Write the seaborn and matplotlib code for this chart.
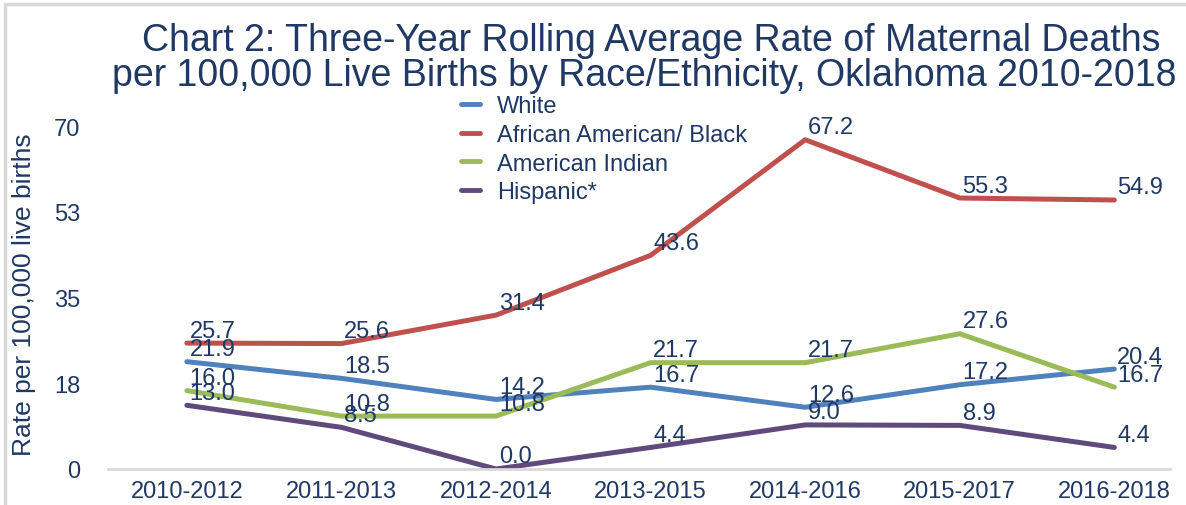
import matplotlib
matplotlib.use("Agg")
import matplotlib.pyplot as plt
import seaborn as sns
import pandas as pd
from matplotlib.patches import Rectangle

periods = ["2010-2012", "2011-2013", "2012-2014", "2013-2015", "2014-2016", "2015-2017", "2016-2018"]
white = [21.9, 18.5, 14.2, 16.7, 12.6, 17.2, 20.4]
black = [25.7, 25.6, 31.4, 43.6, 67.2, 55.3, 54.9]
am_indian = [16.0, 10.8, 10.8, 21.7, 21.7, 27.6, 16.7]
hispanic = [13.0, 8.5, 0.0, 4.4, 9.0, 8.9, 4.4]
series_names = ["White", "African American/ Black", "American Indian", "Hispanic*"]
y_ticks = [0, 17.5, 35, 52.5, 70]
y_tick_labels = ["0", "18", "35", "53", "70"]

colors = ["#4F81BD", "#C0504D", "#9BBB59", "#604A7B"]
navy = "#1F3864"

rows = []
for name, vals in zip(series_names, [white, black, am_indian, hispanic]):
    for p, v in zip(periods, vals):
        rows.append({"Period": p, "Rate": v, "Race": name})
df = pd.DataFrame(rows)

sns.set_theme(style="white")
plt.rcParams["font.family"] = ["Liberation Sans", "DejaVu Sans"]

fig = plt.figure(figsize=(11.86, 5.06), dpi=100)
ax = fig.add_axes([108/1186, 1-470/506, (1170-108)/1186, (470-127)/506])

sns.lineplot(data=df, x="Period", y="Rate", hue="Race", hue_order=series_names,
             palette=colors, linewidth=3.6, sort=False, ax=ax, legend=True)

for name, vals in zip(series_names, [white, black, am_indian, hispanic]):
    for i, v in enumerate(vals):
        ax.annotate(f"{v:.1f}", (i, v), xytext=(2, 9), textcoords="offset points",
                    ha="left", va="center", fontsize=17, color=navy)

ax.set_xlim(-0.51, 6.36)
ax.set_ylim(0, 70)
ax.set_yticks(y_ticks)
ax.set_yticklabels(y_tick_labels)
ax.tick_params(axis="y", labelsize=17, colors=navy, length=0, pad=20)
ax.tick_params(axis="x", labelsize=17, colors=navy, length=0, pad=8)
for s in ["top", "right", "left"]:
    ax.spines[s].set_visible(False)
ax.spines["bottom"].set_color("#D9D9D9")
ax.spines["bottom"].set_linewidth(2)
ax.set_xlabel("")
ax.set_ylabel("Rate per 100,000 live births", fontsize=19, color=navy)
ax.yaxis.set_label_coords(-0.068, 0.51)

handles, labels = ax.get_legend_handles_labels()
ax.get_legend().remove()
for h in handles:
    h.set_linewidth(3.5)
fig.legend(handles, labels, loc="upper left", bbox_to_anchor=(452/1186, 1-87/506),
           frameon=False, fontsize=17, handlelength=0.8, handletextpad=0.7,
           labelspacing=0.28, labelcolor=navy, borderaxespad=0)

fig.text(651/1186, 1-41/506, "Chart 2: Three-Year Rolling Average Rate of Maternal Deaths",
         ha="center", va="center", fontsize=27, color=navy)
fig.text(644/1186, 1-76/506, "per 100,000 Live Births by Race/Ethnicity, Oklahoma 2010-2018",
         ha="center", va="center", fontsize=27, color=navy)

fig.patches.append(Rectangle((5/1186, -0.1), 1.2, 1.1 - 5/506, transform=fig.transFigure,
                             fill=False, edgecolor="#D9D9D9", linewidth=2.5))

fig.savefig("out.png", dpi=100)
